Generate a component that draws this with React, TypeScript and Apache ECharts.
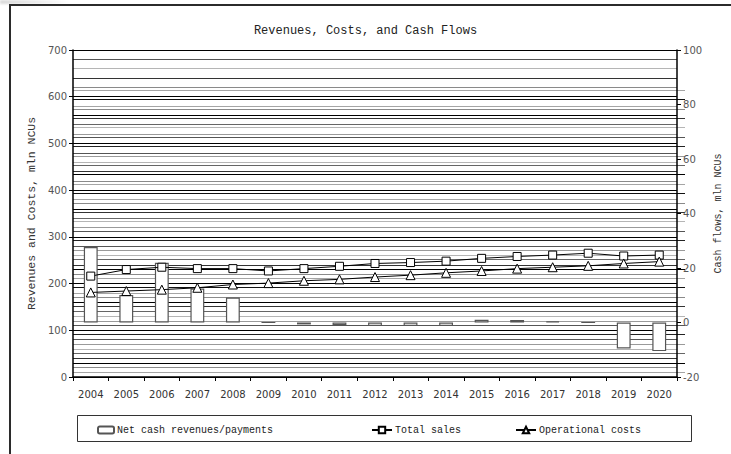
import React, { useEffect, useRef } from "react";
import * as echarts from "echarts";

// Categories and values
const years = [
  "2004", "2005", "2006", "2007", "2008", "2009", "2010", "2011", "2012",
  "2013", "2014", "2015", "2016", "2017", "2018", "2019", "2020",
];
// Net cash revenues/payments, mln NCUs (right axis)
const netCash = [27.7, 10.1, 21.9, 12.5, 9.2, 0, -0.7, -1.0, -1.3, -1.3, -1.3, 1.0, 0.9, 0.4, 0, -9.5, -10.5];
// Total sales, mln NCUs (left axis)
const totalSales = [216, 230, 235, 232, 232, 227, 232, 237, 243, 245, 248, 254, 258, 261, 265, 259, 261];
// Operational costs, mln NCUs (left axis)
const opCosts = [181, 184, 187, 191, 198, 201, 206, 209, 214, 218, 223, 227, 232, 235, 238, 243, 247];

const leftTicks = { min: 0, max: 700, interval: 100 };
const rightTicks = { min: -20, max: 100, interval: 20 };

const MONO = "'Liberation Mono', 'DejaVu Sans Mono', monospace";
const SANS = "'DejaVu Sans', Verdana, sans-serif";

// colours for the fine background rules
const ruleColors = ["#111", "#8a8a8a", "#333", "#b5b5b5", "#555", "#222", "#9a9a9a", "#666", "#000", "#a5a5a5"];

export default function App() {
  const ref = useRef<HTMLDivElement>(null);

  useEffect(() => {
    if (!ref.current) return;
    const chart = echarts.init(ref.current, undefined, { renderer: "svg" });

    const hiddenAxisBits = {
      axisLine: { show: false },
      axisTick: { show: false },
      axisLabel: { show: false },
    };
    const legendText = { fontFamily: MONO, fontSize: 10, color: "#222", padding: [0, 0, 0, -2] };

    chart.setOption({
      animation: false,
      backgroundColor: "transparent",
      title: {
        text: "Revenues, Costs, and Cash Flows",
        left: "center",
        top: 20,
        textStyle: { fontFamily: MONO, fontSize: 12, fontWeight: "normal", color: "#222" },
      },
      grid: [
        { left: 73, right: 46, top: 50, bottom: 77, containLabel: false },
        { left: 73, right: 46, top: 90, bottom: 81.7, containLabel: false },
      ],
      legend: [
        { data: ["Net cash revenues/payments"], left: 92, top: 420, itemWidth: 16, itemHeight: 7, textStyle: legendText },
        { data: ["Total sales"], left: 366, top: 420, itemWidth: 20, itemHeight: 8, textStyle: legendText },
        { data: ["Operational costs"], left: 510, top: 420, itemWidth: 20, itemHeight: 8, textStyle: legendText },
      ],
      graphic: [
        {
          type: "rect",
          left: 75,
          top: 413,
          shape: { width: 614, height: 26 },
          style: { fill: "none", stroke: "#333", lineWidth: 1 },
          z: 0,
        },
      ],
      xAxis: [
        {
          type: "category",
          gridIndex: 0,
          data: years,
          boundaryGap: true,
          axisLine: { lineStyle: { color: "#000", width: 1.5 } },
          axisTick: { show: true, length: 4, lineStyle: { color: "#000" } },
          axisLabel: { fontFamily: SANS, fontSize: 10, color: "#333", margin: 12 },
          splitLine: { show: false },
        },
        {
          type: "value",
          gridIndex: 1,
          min: 0,
          max: 1,
          ...hiddenAxisBits,
          splitLine: { show: false },
        },
      ],
      yAxis: [
        {
          type: "value",
          gridIndex: 0,
          position: "left",
          ...leftTicks,
          name: "Revenues and Costs, mln NCUs",
          nameLocation: "middle",
          nameGap: 33,
          nameTextStyle: { fontFamily: MONO, fontSize: 11.5, color: "#333" },
          axisLine: { show: true, lineStyle: { color: "#000", width: 1.5 } },
          axisTick: { show: true, length: 4, lineStyle: { color: "#000" } },
          axisLabel: { fontFamily: SANS, fontSize: 10, color: "#555", margin: 6 },
          splitLine: { show: true, lineStyle: { color: "#000", width: 1 } },
          z: 3,
        },
        {
          type: "value",
          gridIndex: 0,
          position: "right",
          ...rightTicks,
          name: "Cash flows, mln NCUs",
          nameLocation: "middle",
          nameGap: 34,
          nameRotate: 90,
          nameTextStyle: { fontFamily: MONO, fontSize: 10, color: "#333" },
          axisLine: { show: true, lineStyle: { color: "#000", width: 1.5 } },
          axisTick: { show: true, length: 4, lineStyle: { color: "#000" } },
          axisLabel: { fontFamily: SANS, fontSize: 10, color: "#555", margin: 6 },
          splitLine: { show: false },
          z: 3,
        },
        {
          // fine background rules over the whole plot
          type: "value",
          gridIndex: 0,
          position: "left",
          min: 0,
          max: 35,
          interval: 1,
          ...hiddenAxisBits,
          splitLine: { show: true, lineStyle: { color: ruleColors, width: 1 } },
        },
        {
          // extra interleaved rules on the lower part of the plot
          type: "value",
          gridIndex: 1,
          min: 0,
          max: 30,
          interval: 1,
          ...hiddenAxisBits,
          splitLine: { show: true, lineStyle: { color: ruleColors.slice().reverse(), width: 1 } },
        },
      ],
      series: [
        {
          name: "Net cash revenues/payments",
          type: "bar",
          xAxisIndex: 0,
          yAxisIndex: 1,
          data: netCash,
          barWidth: "39%",
          itemStyle: { color: "#fff", borderColor: "#555", borderWidth: 1.2 },
          z: 4,
        },
        {
          name: "Total sales",
          type: "line",
          xAxisIndex: 0,
          yAxisIndex: 0,
          data: totalSales,
          symbol: "rect",
          symbolSize: 8,
          lineStyle: { color: "#000", width: 1 },
          itemStyle: { color: "#fff", borderColor: "#000", borderWidth: 1 },
          z: 5,
        },
        {
          name: "Operational costs",
          type: "line",
          xAxisIndex: 0,
          yAxisIndex: 0,
          data: opCosts,
          symbol: "triangle",
          symbolSize: 9,
          lineStyle: { color: "#000", width: 1 },
          itemStyle: { color: "#fff", borderColor: "#000", borderWidth: 1 },
          z: 5,
        },
        {
          // empty series that anchors the second grid's axes
          type: "line",
          xAxisIndex: 1,
          yAxisIndex: 3,
          data: [],
          silent: true,
        },
      ],
    });

    return () => chart.dispose();
  }, []);

  return (
    <>
      <div
        ref={ref}
        style={{ position: "fixed", left: 0, top: 0, width: 731, height: 454, background: "#fff" }}
      />
      <div
        style={{
          position: "fixed",
          left: 0,
          top: 0,
          width: 70,
          height: 4,
          background: "linear-gradient(90deg, #d8d8d8, #f2f2f2 70%, #fff)",
          filter: "blur(1px)",
          pointerEvents: "none",
        }}
      />
      <div
        style={{
          position: "fixed",
          left: 9,
          top: 4,
          width: 740,
          height: 470,
          borderLeft: "2px solid #2b2b2b",
          borderTop: "2px solid #2b2b2b",
          pointerEvents: "none",
        }}
      />
    </>
  );
}
